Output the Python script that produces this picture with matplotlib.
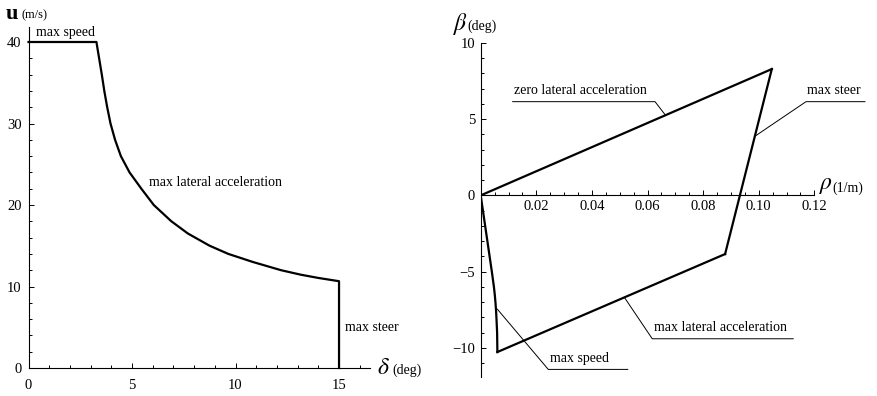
"""Steering envelope plots"""

import matplotlib
matplotlib.use("Agg")
import matplotlib.pyplot as plt
from matplotlib.ticker import MultipleLocator, FixedLocator

plt.rcParams["font.family"] = ["Liberation Serif", "DejaVu Serif"]
plt.rcParams["mathtext.fontset"] = "stix"

# left: speed limit u (m/s) against steer angle delta (deg)
delta = [0, 3.28, 3.41, 3.54, 3.66, 3.80, 3.96, 4.18, 4.46, 4.88, 5.45,
         6.05, 6.90, 7.70, 8.75, 9.65, 10.85, 12.2, 13.15, 14.0, 15.0, 15.0]
speed = [40, 40, 38, 36, 34, 32, 30, 28, 26, 24, 22,
         20, 18, 16.5, 15, 14, 13, 12, 11.45, 11.05, 10.65, 0]

# right: sideslip beta (deg) against curvature rho (1/m)
rho_zero = [0.0, 0.1047]
beta_zero = [0.0, 8.29]
rho_steer = [0.1047, 0.0879]
beta_steer = [8.29, -3.85]
rho_lat = [0.0879, 0.0060]
beta_lat = [-3.85, -10.28]
rho_speed = [0.0060, 0.0059, 0.00565, 0.0055, 0.0053, 0.00505, 0.00475,
             0.0040, 0.0032, 0.0024, 0.0016, 0.0008, 0.0]
beta_speed = [-10.28, -9, -8, -7.5, -7, -6.5, -6,
              -5, -4, -3, -2, -1, 0.0]

left_xticks = [0, 5, 10, 15]
left_yticks = [0, 10, 20, 30, 40]
right_xticks = [0.02, 0.04, 0.06, 0.08, 0.10, 0.12]
right_xlabels = ["0.02", "0.04", "0.06", "0.08", "0.10", "0.12"]
right_yticks = [-10, -5, 0, 5, 10]

fig = plt.figure(figsize=(8.78, 3.96), dpi=100)

lw = 1.6
tfs = 10.5
afs = 10


def style_axes(ax):
    for s in ["top", "right"]:
        ax.spines[s].set_visible(False)
    for s in ["left", "bottom"]:
        ax.spines[s].set_linewidth(0.8)
    ax.tick_params(which="both", direction="in", width=0.7, labelsize=tfs)
    ax.tick_params(which="major", length=3.5)
    ax.tick_params(which="minor", length=2.2)


# ---- left plot ----
ax1 = fig.add_axes([0.0325, 0.0707, 0.389, 0.8611])
ax1.plot(delta, speed, color="black", lw=lw, clip_on=False)
ax1.set_xlim(0, 16.5)
ax1.set_ylim(0, 41.84)
style_axes(ax1)
ax1.set_xticks(left_xticks)
ax1.set_yticks(left_yticks)
ax1.xaxis.set_minor_locator(MultipleLocator(1))
ax1.yaxis.set_minor_locator(MultipleLocator(2))
ax1.tick_params(axis="x", pad=8)
ax1.tick_params(axis="y", pad=5)

ax1.text(0.35, 41.2, "max speed", fontsize=afs, va="center", clip_on=False)
ax1.text(5.82, 22.7, "max lateral acceleration", fontsize=afs, va="center")
ax1.text(15.29, 5.0, "max steer", fontsize=afs, va="center")

fig.text(6 / 878, 1 - 14 / 396, "u", fontsize=16, fontweight="bold", va="center")
fig.text(22 / 878, 1 - 15 / 396, "(m/s)", fontsize=9, va="center")
fig.text(377 / 878, 1 - 368 / 396, r"$\delta$", fontsize=17, va="center")
fig.text(392 / 878, 1 - 370 / 396, "(deg)", fontsize=10, va="center")

# ---- right plot ----
ax2 = fig.add_axes([0.5475, 0.0487, 0.38, 0.8427])
ax2.plot(rho_zero, beta_zero, color="black", lw=lw)
ax2.plot(rho_steer, beta_steer, color="black", lw=lw)
ax2.plot(rho_lat, beta_lat, color="black", lw=lw)
ax2.plot(rho_speed, beta_speed, color="black", lw=lw)
ax2.set_xlim(0, 0.12)
ax2.set_ylim(-11.9, 10)
style_axes(ax2)
ax2.spines["bottom"].set_position(("data", 0))
ax2.xaxis.set_major_locator(FixedLocator(right_xticks))
ax2.set_xticklabels(right_xlabels)
ax2.set_yticks(right_yticks)
ax2.xaxis.set_minor_locator(MultipleLocator(0.005))
ax2.yaxis.set_minor_locator(MultipleLocator(1))
ax2.tick_params(axis="x", pad=3)
ax2.tick_params(axis="y", pad=4)

# callouts: text, underline (near end first), leader to the curve
callouts = [
    ("zero lateral acceleration", 0.0115, 0.0627, 0.0627, 6.15, 0.0663, 5.30),
    ("max steer", 0.1170, 0.1382, 0.1170, 6.15, 0.0987, 3.89),
    ("max lateral acceleration", 0.0617, 0.1124, 0.0617, -9.41, 0.0517, -6.70),
    ("max speed", 0.0243, 0.0529, 0.0243, -11.42, 0.0060, -7.47),
]
for label, x0, x1, xn, yl, px, py in callouts:
    xf = x1 if xn == x0 else x0
    ax2.plot([px, xn, xf], [py, yl, yl], color="black", lw=0.7,
             clip_on=False)
    ax2.text(x0 + 0.0005, yl + 0.3, label, fontsize=afs, va="bottom",
             clip_on=False)

fig.text(453 / 878, 1 - 24 / 396, r"$\beta$", fontsize=17, va="center")
fig.text(467 / 878, 1 - 26 / 396, "(deg)", fontsize=10, va="center")
fig.text(819 / 878, 1 - 186 / 396, r"$\rho$", fontsize=17, va="center")
fig.text(832 / 878, 1 - 188 / 396, "(1/m)", fontsize=10, va="center")

fig.savefig("out.png", dpi=100)
